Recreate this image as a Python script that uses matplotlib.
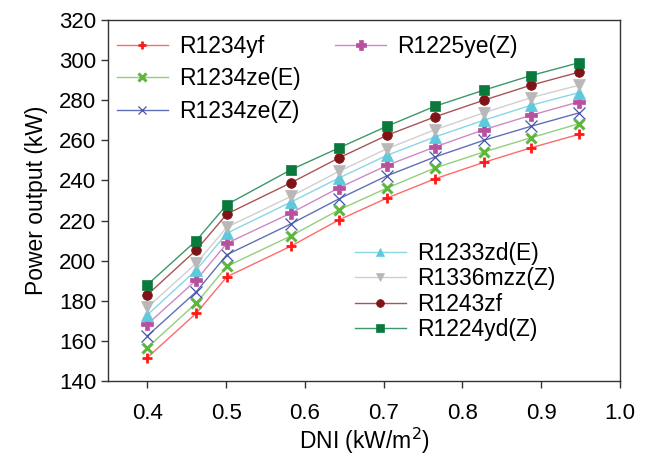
import matplotlib
matplotlib.use("Agg")
from matplotlib import pyplot as plt

# DNI values (kW/m2)
dni = [0.40, 0.462, 0.501, 0.582, 0.643, 0.704, 0.765, 0.827, 0.887, 0.948]

# power output (kW) per working fluid
r1234yf = [151.7, 173.8, 192.0, 207.2, 220.3, 231.2, 240.8, 249.0, 256.3, 263.0]
r1234ze_e = [156.7, 178.8, 197.2, 212.3, 225.3, 236.2, 246.2, 254.2, 261.3, 268.3]
r1234ze_z = [162.5, 184.5, 203.0, 218.3, 230.8, 242.3, 251.7, 260.0, 267.0, 273.7]
r1225ye_z = [168.3, 190.3, 208.7, 223.7, 236.3, 247.5, 256.7, 265.3, 272.5, 279.2]
r1233zd_e = [173.0, 195.3, 213.7, 229.2, 241.2, 252.5, 261.7, 270.0, 277.5, 283.8]
r1336mzz_z = [176.7, 198.7, 216.7, 232.0, 244.5, 255.8, 265.3, 273.7, 281.3, 287.5]
r1243zf = [183.0, 205.3, 223.3, 238.8, 251.2, 262.5, 271.7, 280.0, 287.5, 294.0]
r1224yd_z = [188.0, 210.0, 228.0, 245.3, 256.2, 267.0, 277.0, 285.0, 292.3, 298.7]

plt.rcParams['font.family'] = ['Liberation Sans', 'DejaVu Sans']

fig = plt.figure(figsize=(6.53, 4.62), dpi=100)
ax = fig.add_axes([0.1654, 0.1753, 0.9495 - 0.1654, 0.9567 - 0.1753])

# (values, label, line colour, marker colour, marker, size, edge width)
series = [
    (r1234yf, "R1234yf", "#ff6a6a", "#ff1a1a", "+", 7, 2.0),
    (r1234ze_e, "R1234ze(E)", "#92d07a", "#5cb83c", "x", 7, 2.2),
    (r1234ze_z, "R1234ze(Z)", "#6070b8", "#4455aa", "x", 8, 0.9),
    (r1225ye_z, "R1225ye(Z)", "#d088c4", "#b8509f", "P", 9, 0.5),
    (r1233zd_e, "R1233zd(E)", "#88d6e6", "#5ec8dc", "^", 8, 0.5),
    (r1336mzz_z, "R1336mzz(Z)", "#d0d0d0", "#b8b8b8", "v", 8, 0.5),
    (r1243zf, "R1243zf", "#a85555", "#7f1416", "o", 7, 0.5),
    (r1224yd_z, "R1224yd(Z)", "#3c9868", "#0a7a3c", "s", 7, 0.5),
]

handles = []
for vals, lab, lc, mc, mk, ms, mew in series:
    h, = ax.plot(dni, vals, color=lc, lw=1.0, marker=mk, markersize=ms,
                 markerfacecolor=mc, markeredgecolor=mc, markeredgewidth=mew,
                 label=lab)
    handles.append(h)

ax.set_xlim(0.35, 1.0)
ax.set_ylim(140, 320)
ax.set_xticks([0.4, 0.5, 0.6, 0.7, 0.8, 0.9, 1.0])
ax.set_xticklabels(["0.4", "0.5", "0.6", "0.7", "0.8", "0.9", "1.0"])
ax.set_yticks(range(140, 321, 20))
ax.tick_params(direction='out', length=5, width=1, labelsize=16, color="#333333")
ax.tick_params(axis='x', pad=11)
for sp in ax.spines.values():
    sp.set_linewidth(1.0)
    sp.set_color("#333333")

ax.set_xlabel("DNI (kW/m$^2$)", fontsize=16.5, labelpad=1)
ax.set_ylabel("Power output (kW)", fontsize=16.5, labelpad=8)

leg_kw = dict(frameon=False, fontsize=16.5, handlelength=2.2, handletextpad=0.5,
              borderaxespad=0.0, markerscale=0.8)

leg_a = ax.legend(handles=handles[:3], loc='upper left',
                  bbox_to_anchor=(0.0, 0.985), labelspacing=0.42, **leg_kw)
ax.add_artist(leg_a)
leg_b = ax.legend(handles=handles[3:4], loc='upper left',
                  bbox_to_anchor=(0.426, 0.985), **leg_kw)
ax.add_artist(leg_b)
ax.legend(handles=handles[4:], loc='upper left',
          bbox_to_anchor=(0.465, 0.41), labelspacing=0.1, **leg_kw)

fig.savefig("out.png", dpi=100)
